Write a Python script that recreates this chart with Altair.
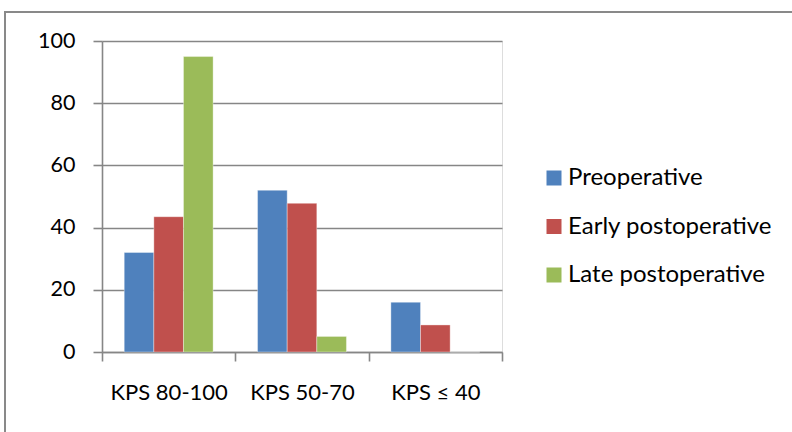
import altair as alt
import pandas as pd

categories = ["KPS 80-100", "KPS 50-70", "KPS ≤ 40"]
series = ["Preoperative", "Early postoperative", "Late postoperative"]
preoperative = [32, 52, 16]
early_postoperative = [43.5, 47.8, 8.7]
late_postoperative = [95, 5, 0]
colors = ["#4F81BD", "#C0504D", "#9BBB59"]
y_ticks = [0, 20, 40, 60, 80, 100]

rows = []
for s, vals in zip(series, [preoperative, early_postoperative, late_postoperative]):
    for c, v in zip(categories, vals):
        rows.append({"category": c, "series": s, "value": v})
df = pd.DataFrame(rows)

FONT = "Lato"
GRAY = "#868686"

bars = alt.Chart(df).mark_bar(stroke="white", strokeWidth=0.6, strokeOpacity=0.6).encode(
    x=alt.X(
        "category:N",
        sort=categories,
        scale=alt.Scale(paddingInner=0, paddingOuter=0),
        axis=alt.Axis(
            title=None, labelAngle=0, tickBand="extent",
            domainColor=GRAY, domainWidth=1.6, tickColor=GRAY, tickWidth=1.6, tickSize=9,
            labelFont=FONT, labelFontSize=22, labelColor="black", labelPadding=21,
        ),
    ),
    xOffset=alt.XOffset("series:N", sort=series,
                        scale=alt.Scale(domain=series, paddingInner=0, paddingOuter=0.75)),
    y=alt.Y(
        "value:Q",
        scale=alt.Scale(domain=[0, 100]),
        axis=alt.Axis(
            values=y_ticks, title=None, grid=True, gridColor=GRAY, gridWidth=1.6,
            domainColor=GRAY, domainWidth=1.6, tickColor=GRAY, tickWidth=1.6, tickSize=9,
            labelFont=FONT, labelFontSize=21.5, labelColor="black", labelPadding=18,
        ),
    ),
    color=alt.Color(
        "series:N",
        sort=series,
        scale=alt.Scale(domain=series, range=colors),
        legend=alt.Legend(
            title=None, orient="none", legendX=440, legendY=125,
            symbolType="square", symbolSize=225, symbolStrokeWidth=0,
            labelFont=FONT, labelFontSize=24, labelColor="black", labelOffset=2,
            rowPadding=24.5, labelLimit=400,
        ),
    ),
)

border = alt.Chart(pd.DataFrame({"b": [0]})).mark_rect(
    filled=False, stroke="#898989", strokeWidth=2
).encode(
    x=alt.value(-97), x2=alt.value(800), y=alt.value(-29), y2=alt.value(500)
)

chart = alt.layer(border, bars).properties(
    width=400, height=311,
    autosize=alt.AutoSizeParams(type="none"),
    padding={"left": 102, "top": 41, "right": 290, "bottom": 80},
).configure_view(stroke=None).configure(background="white")

chart.save("out.html", embed_options={"renderer": "svg", "actions": False})
